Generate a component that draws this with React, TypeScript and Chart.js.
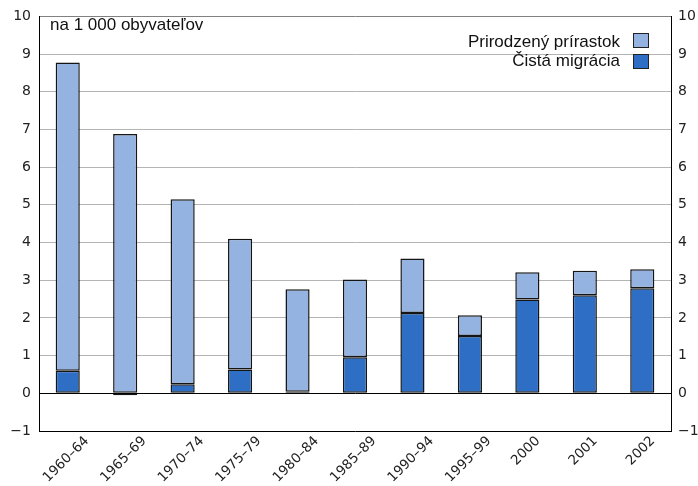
import React, { useEffect, useRef } from "react";
import { Chart, registerables } from "chart.js";

Chart.register(...registerables);

const categories = ["1960–64", "1965–69", "1970–74", "1975–79", "1980–84", "1985–89", "1990–94", "1995–99", "2000", "2001", "2002"];
const netMigration = [0.6, -0.05, 0.24, 0.63, 0.04, 0.96, 2.13, 1.52, 2.49, 2.6, 2.79];
const naturalIncrease = [8.18, 6.88, 4.91, 3.47, 2.72, 2.06, 1.45, 0.55, 0.72, 0.65, 0.5];
const yTicks = [-1, 0, 1, 2, 3, 4, 5, 6, 7, 8, 9, 10];
const unitLabel = "na 1 000 obyvateľov";
const seriesNames = ["Prirodzený prírastok", "Čistá migrácia"];
const colors = ["#95b3e0", "#2e6ec5"];

const fmt = (v: number) => (v < 0 ? "\u2212" + Math.abs(v) : String(v));

const overlayPlugin = {
  id: "overlay",
  afterDraw(chart: any) {
    const ctx = chart.ctx;
    const xs = chart.scales.x;
    const area = chart.chartArea;
    ctx.save();
    ctx.font = "13.5px 'DejaVu Sans'";
    ctx.fillStyle = "#222";
    ctx.textAlign = "center";
    ctx.textBaseline = "middle";
    categories.forEach((lab, i) => {
      const x = xs.getPixelForValue(i);
      const L = ctx.measureText(lab).width;
      const h = 11;
      const cy = area.bottom + 4 + (L + h) * 0.3536;
      ctx.save();
      ctx.translate(x - 1.5, cy);
      ctx.rotate(-Math.PI / 4);
      ctx.fillText(lab, 0, 0);
      ctx.restore();
    });
    ctx.font = "17px 'Liberation Sans'";
    ctx.fillStyle = "#111";
    ctx.textAlign = "left";
    ctx.textBaseline = "alphabetic";
    ctx.fillText(unitLabel, 50, 30);
    const rows = [
      { name: seriesNames[0], color: colors[0] },
      { name: seriesNames[1], color: colors[1] },
    ];
    rows.forEach((r, i) => {
      const by = 33.5 + i * 21;
      ctx.textAlign = "right";
      ctx.fillStyle = "#111";
      ctx.fillText(r.name, 620, 46.5 + i * 19);
      ctx.fillStyle = r.color;
      ctx.fillRect(633.5, by, 15, 14);
      ctx.strokeStyle = "#222";
      ctx.lineWidth = 1;
      ctx.strokeRect(633.5, by, 15, 14);
    });
    ctx.restore();
  },
};

export default function App() {
  const ref = useRef<HTMLCanvasElement | null>(null);
  useEffect(() => {
    if (!ref.current) return;
    const common = {
      borderColor: "#151515",
      borderWidth: 1.5,
      borderSkipped: false,
      barPercentage: 0.42,
      categoryPercentage: 1,
      yAxisID: "y",
    };
    const chart = new Chart(ref.current, {
      type: "bar",
      data: {
        labels: categories,
        datasets: [
          { ...common, label: seriesNames[1], data: netMigration, backgroundColor: colors[1] },
          { ...common, label: seriesNames[0], data: naturalIncrease, backgroundColor: colors[0] },
        ],
      },
      options: {
        responsive: false,
        animation: false,
        layout: { padding: { top: 14, left: 0, right: 0, bottom: 0 } },
        plugins: { legend: { display: false }, tooltip: { enabled: false }, title: { display: false } },
        scales: {
          x: {
            stacked: true,
            grid: { display: false, drawTicks: false },
            border: { display: true, color: "#000", width: 1 },
            ticks: { display: false },
            afterFit: (s: any) => { s.height = 55; },
          },
          y: {
            stacked: true,
            position: "left",
            min: -1,
            max: 10,
            afterBuildTicks: (s: any) => { s.ticks = yTicks.map((v) => ({ value: v })); },
            afterFit: (s: any) => { s.width = 39; },
            grid: {
              drawTicks: false,
              color: (c: any) => (c.tick && c.tick.value === 0 ? "#000" : c.tick && c.tick.value === 10 ? "#808080" : "#b4b4b4"),
              lineWidth: 1,
            },
            border: { display: true, color: "#000", width: 1 },
            ticks: {
              padding: 8,
              color: "#222",
              font: { family: "DejaVu Sans", size: 14 },
              callback: (v: any) => fmt(Number(v)),
            },
          },
          y2: {
            position: "right",
            min: -1,
            max: 10,
            afterBuildTicks: (s: any) => { s.ticks = yTicks.map((v) => ({ value: v })); },
            afterFit: (s: any) => { s.width = 27; },
            grid: { display: false, drawTicks: false },
            border: { display: true, color: "#000", width: 1 },
            ticks: {
              padding: 7,
              color: "#222",
              font: { family: "DejaVu Sans", size: 14 },
              callback: (v: any) => fmt(Number(v)),
            },
          },
        },
      },
      plugins: [overlayPlugin],
    } as any);
    return () => chart.destroy();
  }, []);
  return (
    <div style={{ position: "fixed", left: 0, top: 0, width: 698, height: 486, background: "#fff" }}>
      <canvas ref={ref} width={698} height={486} style={{ display: "block" }} />
    </div>
  );
}
